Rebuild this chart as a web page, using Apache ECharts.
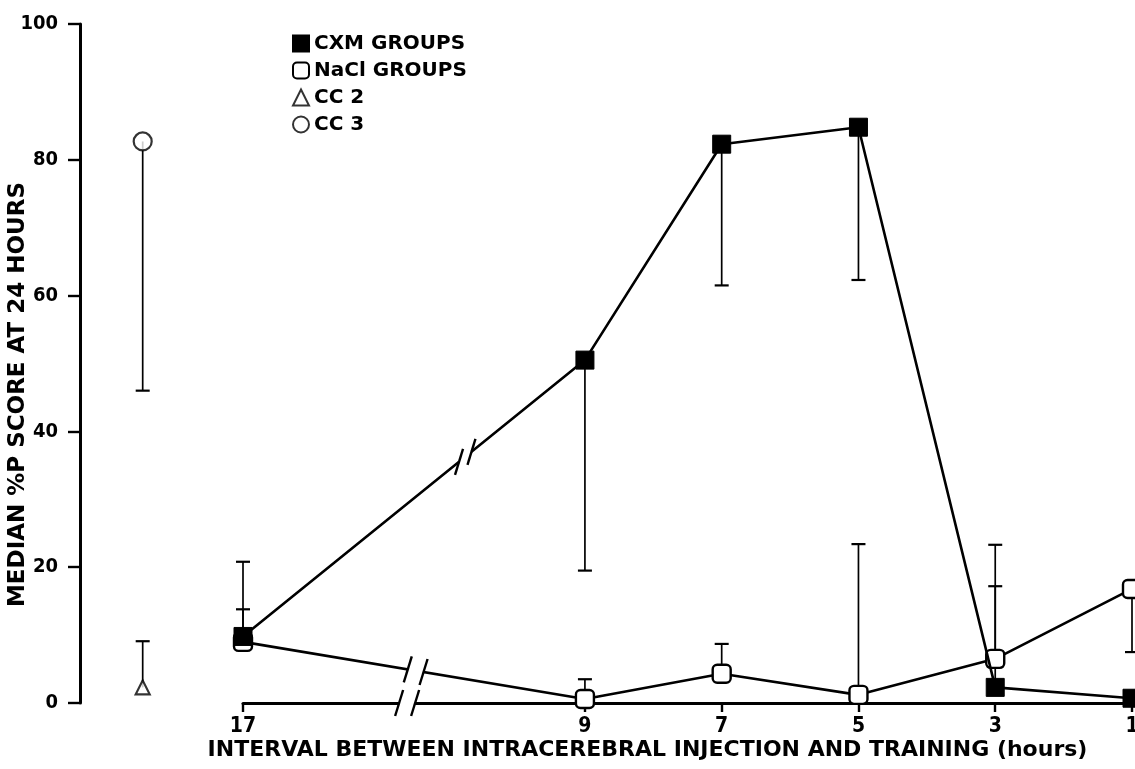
<!DOCTYPE html>
<html>
<head>
<meta charset="utf-8">
<script src="https://cdn.jsdelivr.net/npm/echarts@6/dist/echarts.min.js"></script>
<style>
  html, body { margin: 0; padding: 0; background: #fff; }
  #chart { width: 1135px; height: 769px; }
</style>
</head>
<body>
<div id="chart"></div>
<script>
  // interval between injection and training (hours)
  const hours = [17, 9, 7, 5, 3, 1];
  // median %P score at 24 hours
  const cxm = [9.8, 50.5, 82.3, 84.8, 2.3, 0.7];
  const nacl = [9.0, 0.6, 4.3, 1.2, 6.5, 16.8];
  // error bar end for each point
  const cxmErr = [20.8, 19.5, 61.5, 62.3, 17.2, null];
  const naclErr = [13.8, 3.5, 8.7, 23.4, 23.3, 7.5];
  // control groups
  const cc2 = 2.3, cc2Err = 9.1;
  const cc3 = 82.7, cc3Err = 46;
  const yTicks = [0, 20, 40, 60, 80, 100];

  // broken axis: 17 h sits 2.5 intervals left of 9 h
  function pos(h) { return h <= 9 ? h : 9 + (h - 9) * 5 / 8; }
  const tickPos = hours.map(pos);
  const font = 'DejaVu Sans';
  const narrow = "'Liberation Sans Narrow', 'DejaVu Sans Condensed', sans-serif";

  function renderErr(params, api) {
    const x = api.value(0);
    const p0 = api.coord([x, api.value(1)]);
    const p1 = api.coord([x, api.value(2)]);
    return {
      type: 'group',
      children: [
        { type: 'line', shape: { x1: p0[0], y1: p0[1], x2: p1[0], y2: p1[1] }, style: { stroke: '#000', lineWidth: 1.7 } },
        { type: 'line', shape: { x1: p1[0] - 7, y1: p1[1], x2: p1[0] + 7, y2: p1[1] }, style: { stroke: '#000', lineWidth: 2.2 } }
      ]
    };
  }

  function renderBreak(params, api) {
    const a = api.coord([api.value(0), api.value(1)]);
    const b = api.coord([api.value(2), api.value(3)]);
    const t = api.value(4);
    const cx = a[0] + (b[0] - a[0]) * t, cy = a[1] + (b[1] - a[1]) * t;
    const len = Math.hypot(b[0] - a[0], b[1] - a[1]);
    const ux = (b[0] - a[0]) / len, uy = (b[1] - a[1]) / len;
    const g = 8, h = 13, s = 4;
    const q1 = [cx - ux * g, cy - uy * g], q2 = [cx + ux * g, cy + uy * g];
    const slash = q => ({ type: 'line', shape: { x1: q[0] - s, y1: q[1] + h, x2: q[0] + s, y2: q[1] - h }, style: { stroke: '#000', lineWidth: 2.4 } });
    return {
      type: 'group',
      children: [
        { type: 'line', shape: { x1: q1[0], y1: q1[1], x2: q2[0], y2: q2[1] }, style: { stroke: '#fff', lineWidth: 8 } },
        slash(q1), slash(q2)
      ]
    };
  }

  const errData = [];
  hours.forEach((h, i) => {
    if (cxmErr[i] != null) errData.push([pos(h), cxm[i], cxmErr[i]]);
    if (naclErr[i] != null) errData.push([pos(h), nacl[i], naclErr[i]]);
  });
  const breakData = [
    [pos(17), cxm[0], pos(9), cxm[1], 0.65],
    [pos(17), nacl[0], pos(9), nacl[1], 0.505],
    [pos(17), 0, pos(9), 0, 0.48]
  ];

  const chart = echarts.init(document.getElementById('chart'));
  chart.setOption({
    animation: false,
    backgroundColor: '#fff',
    textStyle: { fontFamily: font, color: '#000' },
    legend: {
      orient: 'vertical',
      left: 287,
      top: 28,
      itemWidth: 16,
      itemHeight: 16,
      itemGap: 6,
      textStyle: { fontFamily: font, fontSize: 20, fontWeight: 'bold', lineHeight: 21, color: '#000' },
      data: [
        { name: 'CXM GROUPS', icon: 'rect' },
        { name: 'NaCl GROUPS', icon: 'roundRect' },
        { name: 'CC 2', icon: 'triangle' },
        { name: 'CC 3', icon: 'circle' }
      ]
    },
    grid: [
      { left: 243, right: 3, top: 24, bottom: 66, outerBoundsMode: 'none' },
      { left: 80, width: 163, top: 24, bottom: 66, outerBoundsMode: 'none' }
    ],
    xAxis: [
      {
        gridIndex: 0,
        type: 'value',
        min: 1,
        max: 14,
        inverse: true,
        name: 'INTERVAL BETWEEN INTRACEREBRAL INJECTION AND TRAINING (hours)',
        nameLocation: 'middle',
        nameGap: 36,
        nameMoveOverlap: false,
        nameTextStyle: { fontFamily: font, fontSize: 22, fontWeight: 'bold', color: '#000', padding: [0, 80, 0, 0] },
        axisLine: { lineStyle: { color: '#000', width: 3 } },
        axisTick: { customValues: tickPos, length: 9, lineStyle: { color: '#000', width: 2.4 } },
        axisLabel: {
          customValues: tickPos,
          margin: 13,
          fontFamily: narrow,
          fontSize: 21,
          fontWeight: 'bold',
          color: '#000',
          formatter: v => String(hours[tickPos.indexOf(v)])
        },
        splitLine: { show: false }
      },
      { gridIndex: 1, type: 'value', min: 0, max: 2.6, show: false }
    ],
    yAxis: [
      { gridIndex: 0, type: 'value', min: 0, max: 100, interval: 20, show: false },
      {
        gridIndex: 1,
        type: 'value',
        min: 0,
        max: 100,
        interval: 20,
        name: 'MEDIAN %P SCORE AT 24 HOURS',
        nameLocation: 'middle',
        nameGap: 50,
        nameMoveOverlap: false,
        nameTextStyle: { fontFamily: font, fontSize: 23, fontWeight: 'bold', color: '#000', padding: [0, 62, 0, 0] },
        axisLine: { show: true, lineStyle: { color: '#000', width: 3 } },
        axisTick: { show: true, length: 12, lineStyle: { color: '#000', width: 2.4 } },
        axisLabel: { margin: 22, fontFamily: narrow, fontSize: 20, fontWeight: 'bold', color: '#000', formatter: v => yTicks.includes(v) ? String(v) : '' },
        splitLine: { show: false }
      }
    ],
    series: [
      {
        type: 'custom',
        name: 'err',
        xAxisIndex: 0, yAxisIndex: 0,
        z: 1,
        renderItem: renderErr,
        encode: { x: 0, y: [1, 2] },
        data: errData
      },
      {
        type: 'custom',
        name: 'ccErr',
        xAxisIndex: 1, yAxisIndex: 1,
        z: 1,
        renderItem: renderErr,
        encode: { x: 0, y: [1, 2] },
        data: [[1, cc2, cc2Err], [1, cc3, cc3Err]]
      },
      {
        type: 'line',
        name: 'NaCl GROUPS',
        xAxisIndex: 0, yAxisIndex: 0,
        z: 3,
        symbol: 'roundRect',
        symbolSize: 18,
        lineStyle: { color: '#000', width: 2.6 },
        itemStyle: { color: '#fff', borderColor: '#000', borderWidth: 2.4 },
        data: hours.map((h, i) => [pos(h), nacl[i]])
      },
      {
        type: 'line',
        name: 'CXM GROUPS',
        xAxisIndex: 0, yAxisIndex: 0,
        z: 4,
        symbol: 'rect',
        symbolSize: 18,
        lineStyle: { color: '#000', width: 2.6 },
        itemStyle: { color: '#000', borderColor: '#000', borderWidth: 1 },
        data: hours.map((h, i) => [pos(h), cxm[i]])
      },
      {
        type: 'custom',
        name: 'breaks',
        xAxisIndex: 0, yAxisIndex: 0,
        z: 5,
        renderItem: renderBreak,
        data: breakData
      },
      {
        type: 'scatter',
        name: 'CC 2',
        xAxisIndex: 1, yAxisIndex: 1,
        z: 3,
        symbol: 'triangle',
        symbolSize: 14,
        itemStyle: { color: '#fff', borderColor: '#000', borderWidth: 2.2 },
        data: [[1, cc2]]
      },
      {
        type: 'scatter',
        name: 'CC 3',
        xAxisIndex: 1, yAxisIndex: 1,
        z: 3,
        symbol: 'circle',
        symbolSize: 18,
        itemStyle: { color: '#fff', borderColor: '#000', borderWidth: 2.2 },
        data: [[1, cc3]]
      }
    ]
  });
</script>
</body>
</html>
